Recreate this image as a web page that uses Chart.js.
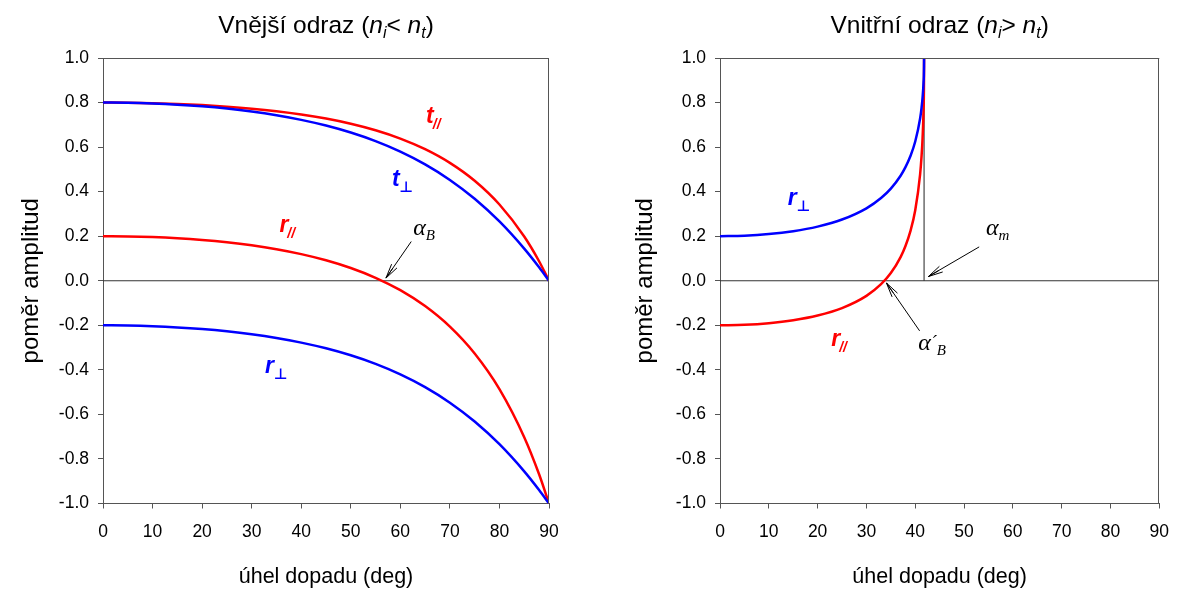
<!DOCTYPE html>
<html><head><meta charset="utf-8">
<script src="https://cdn.jsdelivr.net/npm/chart.js@4"></script>
<style>
body{margin:0;background:#fff;}
#wrap{position:relative;width:1182px;height:591px;overflow:hidden;}
.c{position:absolute;top:0;height:591px;}
</style>
</head><body>
<div id="wrap">
<div class="c" style="left:0;width:591px"><canvas id="c1"></canvas></div>
<div class="c" style="left:591px;width:591px"><canvas id="c2"></canvas></div>
</div>
<script>
// ---- data ----
const extAngles = [0,5,10,15,20,25,30,35,40,45,50,55,60,65,70,75,80,85,88,90];
const extRperp = [-0.2,-0.20102,-0.20411,-0.20937,-0.21698,-0.22721,-0.24041,-0.25706,-0.27777,-0.30334,-0.33474,-0.37319,-0.42020,-0.47756,-0.54735,-0.63194,-0.73389,-0.85577,-0.93949,-1];
const extRpar = [0.2,0.19898,0.19589,0.19060,0.18290,0.17248,0.15890,0.14155,0.11962,0.09201,0.05725,0.01334,-0.04245,-0.11386,-0.20613,-0.32675,-0.48664,-0.70232,-0.86881,-1];
const extTperp = [0.8,0.79898,0.79589,0.79063,0.78302,0.77279,0.75959,0.74294,0.72223,0.69666,0.66526,0.62681,0.57980,0.52244,0.45265,0.36806,0.26611,0.14423,0.06051,0];
const extTpar = [0.8,0.79932,0.79726,0.79373,0.78860,0.78165,0.77260,0.76103,0.74642,0.72801,0.70483,0.67556,0.63837,0.59076,0.52925,0.44883,0.34224,0.19845,0.08746,0];

const intAngles = [0,5,10,15,20,25,30,33,35,37,38,39,40,41,41.3,41.5,41.7,41.8,41.81];
const intRperp = [0.2,0.20231,0.20950,0.22246,0.24303,0.27478,0.32523,0.37135,0.41363,0.47153,0.50995,0.55874,0.62491,0.72868,0.77750,0.82161,0.88932,0.96468,1.0];
const intRpar = [-0.2,-0.19769,-0.19047,-0.17733,-0.15618,-0.12281,-0.06788,-0.01548,0.03450,0.10617,0.15592,0.22178,0.31633,0.47803,0.56050,0.63888,0.76707,0.92226,1.0];
const critAngle = 41.81;

const xTicks = [0,10,20,30,40,50,60,70,80,90];
const yTicks = [-1.0,-0.8,-0.6,-0.4,-0.2,0.0,0.2,0.4,0.6,0.8,1.0];

const xTitle = 'úhel dopadu (deg)';
const yTitle = 'poměr amplitud';

// ---- styles ----
const SANS = "'Liberation Sans', Arial, 'DejaVu Sans', sans-serif";
const SERIF = "'Liberation Serif', 'Times New Roman', serif";
const RED = '#ff0000', BLUE = '#0000ff', AX = '#555555';

function pts(xs, ys){ return xs.map((x,i)=>({x:x, y:ys[i]})); }
function curve(data, color){
  return {data, borderColor:color, borderWidth:2.5, pointRadius:0, fill:false,
          cubicInterpolationMode:'monotone', tension:0};
}
function flat(data, color, w){
  return {data, borderColor:color, borderWidth:w, pointRadius:0, fill:false, tension:0};
}

function drawRich(ctx, x, y, segs){
  for (const s of segs){
    ctx.font = s.f; ctx.fillStyle = s.c || '#000';
    x += (s.dx||0);
    ctx.fillText(s.t, x, y + (s.dy||0));
    x += ctx.measureText(s.t).width;
  }
}
function richWidth(ctx, segs){
  let w = 0;
  for (const s of segs){ ctx.font = s.f; w += ctx.measureText(s.t).width + (s.dx||0); }
  return w;
}
function arrow(ctx, x1, y1, x2, y2){
  const ang = Math.atan2(y2-y1, x2-x1), L = 15, sp = 0.22;
  ctx.beginPath();
  ctx.moveTo(x1,y1); ctx.lineTo(x2,y2);
  ctx.moveTo(x2,y2); ctx.lineTo(x2 - L*Math.cos(ang-sp), y2 - L*Math.sin(ang-sp));
  ctx.moveTo(x2,y2); ctx.lineTo(x2 - L*Math.cos(ang+sp), y2 - L*Math.sin(ang+sp));
  ctx.moveTo(x2,y2); ctx.lineTo(x2 - L*0.8*Math.cos(ang), y2 - L*0.8*Math.sin(ang));
  ctx.stroke();
}

const decor = {
  id:'decor',
  afterDraw(chart, args, o){
    const ctx = chart.ctx, a = chart.chartArea;
    const xs = chart.scales.x, ys = chart.scales.y;
    ctx.save();
    // frame top & right
    ctx.strokeStyle = AX; ctx.lineWidth = 1;
    ctx.beginPath();
    ctx.moveTo(a.left, Math.round(a.top)+0.5); ctx.lineTo(a.right, Math.round(a.top)+0.5);
    ctx.moveTo(Math.round(a.right)-0.5, a.top); ctx.lineTo(Math.round(a.right)-0.5, a.bottom);
    ctx.stroke();
    // title
    ctx.textBaseline = 'alphabetic'; ctx.textAlign = 'left';
    const w = richWidth(ctx, o.title);
    drawRich(ctx, (a.left + a.right)/2 - w/2, 33, o.title);
    // labels
    for (const L of o.labels){
      drawRich(ctx, xs.getPixelForValue(L.x), ys.getPixelForValue(L.y), L.segs);
    }
    ctx.strokeStyle = '#000'; ctx.lineWidth = 1;
    for (const A of o.arrows){
      arrow(ctx, xs.getPixelForValue(A.x1), ys.getPixelForValue(A.y1),
                 xs.getPixelForValue(A.x2), ys.getPixelForValue(A.y2));
    }
    ctx.restore();
  }
};

const BI = (s)=>'italic bold '+s+'px '+SANS;
const IT = (s)=>'italic '+s+'px '+SANS;
const NR = (s)=>s+'px '+SANS;
const GR = (s)=>'italic '+s+'px '+SERIF;

function titleSegs(word, rel){
  return [{t:word+' (', f:NR(24.5)},{t:'n', f:IT(24.5)},{t:'i', f:IT(16), dy:5},
          {t:rel+' ', f:NR(24.5)},{t:'n', f:IT(24.5)},{t:'t', f:IT(16), dy:5},{t:')', f:NR(24.5)}];
}
function lbl(x, y, main, sub, color){
  return {x, y, segs:[{t:main, f:BI(23), c:color},{t:sub, f:(sub==='//'?BI(14):'bold 15px '+SANS), c:color, dy:6, dx:(sub==='//'?-1:0)}]};
}

function makeOptions(yPadTitle, yWidth, padRight, decorOpts){
  return {
    responsive:true, maintainAspectRatio:false, animation:false,
    layout:{padding:{top:58, right:padRight, bottom:0, left:0}},
    plugins:{legend:{display:false}, tooltip:{enabled:false}, decor:decorOpts},
    scales:{
      x:{type:'linear', min:0, max:90,
         afterBuildTicks:(s)=>{ s.ticks = xTicks.map(v=>({value:v})); },
         afterFit:(s)=>{ s.height = 591 - 58 - 445.5; },
         ticks:{font:{size:17.5, family:SANS}, color:'#000', padding:13, maxRotation:0, autoSkip:false,
                callback:(v)=>String(v)},
         grid:{display:true, drawOnChartArea:false, drawTicks:true, tickLength:5, color:AX},
         border:{display:true, color:AX, width:1},
         title:{display:true, text:xTitle, font:{size:21.5, family:SANS}, color:'#000', padding:{top:0,bottom:1}}},
      y:{type:'linear', min:-1, max:1,
         afterBuildTicks:(s)=>{ s.ticks = yTicks.map(v=>({value:v})); },
         afterFit:(s)=>{ s.width = yWidth; },
         ticks:{font:{size:17.5, family:SANS}, color:'#000', padding:9, autoSkip:false,
                callback:(v)=>Number(v).toFixed(1)},
         grid:{display:true, drawOnChartArea:false, drawTicks:true, tickLength:5, color:AX},
         border:{display:true, color:AX, width:1},
         title:{display:true, text:yTitle, font:{size:24, family:SANS}, color:'#000', padding:{top:yPadTitle,bottom:0}}}
    }
  };
}

// left chart: external reflection
new Chart(document.getElementById('c1'), {
  type:'line',
  data:{datasets:[
    curve(pts(extAngles, extTperp), BLUE),
    curve(pts(extAngles, extRperp), BLUE),
    curve(pts(extAngles, extTpar), RED),
    curve(pts(extAngles, extRpar), RED),
    flat([{x:0,y:0},{x:90,y:0}], '#333', 1)
  ]},
  options: makeOptions(17, 103, 42, {
    title: titleSegs('Vnější odraz', '<'),
    labels:[
      lbl(65.2, 0.709, 't', '//', RED),
      lbl(58.3, 0.426, 't', '⊥', BLUE),
      lbl(35.6, 0.220, 'r', '//', RED),
      lbl(32.7, -0.414, 'r', '⊥', BLUE),
      {x:62.6, y:0.206, segs:[{t:'α', f:GR(24)},{t:'B', f:GR(15), dy:5}]}
    ],
    arrows:[{x1:62.2, y1:0.176, x2:57.1, y2:0.012}]
  }),
  plugins:[decor]
});

// right chart: internal reflection
new Chart(document.getElementById('c2'), {
  type:'line',
  data:{datasets:[
    curve(pts(intAngles, intRperp), BLUE),
    curve(pts(intAngles, intRpar), RED),
    flat([{x:critAngle,y:0},{x:critAngle,y:1}], '#222', 1),
    flat([{x:0,y:0},{x:90,y:0}], '#333', 1)
  ]},
  options: makeOptions(40, 129, 17, {
    title: titleSegs('Vnitřní odraz', '>'),
    labels:[
      lbl(13.9, 0.341, 'r', '⊥', BLUE),
      lbl(22.8, -0.293, 'r', '//', RED),
      {x:54.5, y:0.206, segs:[{t:'α', f:GR(24)},{t:'m', f:GR(15), dy:5}]},
      {x:40.6, y:-0.31, segs:[{t:'α', f:GR(24)},{t:'´', f:GR(18), dy:-2},{t:'B', f:GR(15), dy:5}]}
    ],
    arrows:[{x1:53.1, y1:0.152, x2:42.7, y2:0.019},
            {x1:40.9, y1:-0.225, x2:34.1, y2:-0.01}]
  }),
  plugins:[decor]
});
</script>
</body></html>
